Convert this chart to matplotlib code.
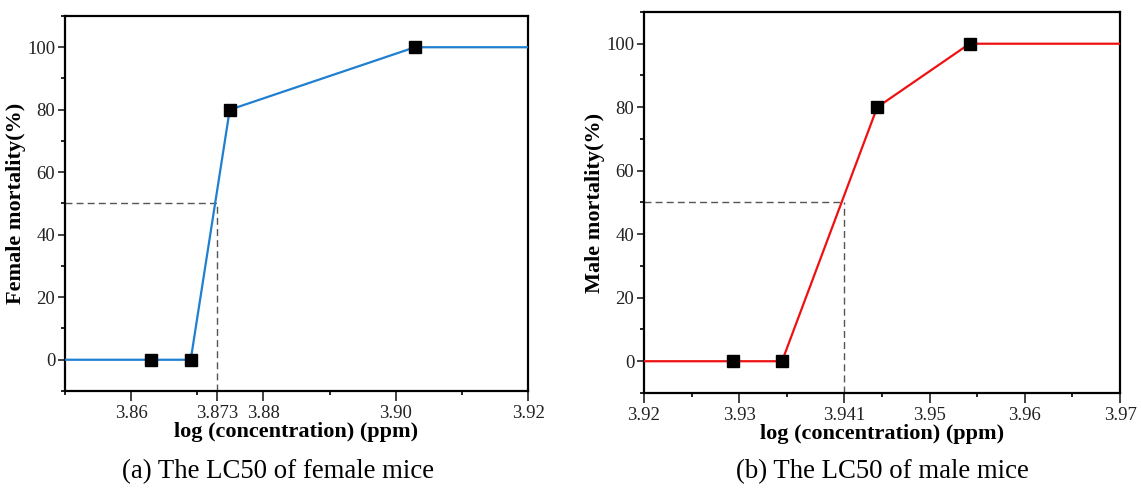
import numpy as np
import matplotlib
matplotlib.use("Agg")
import matplotlib.pyplot as plt
from matplotlib.ticker import MultipleLocator, FixedLocator

plt.rcParams['font.family'] = ['Liberation Serif', 'DejaVu Serif']

# female data
female_x = [3.863, 3.869, 3.8749, 3.9029]
female_y = [0, 0, 80, 100]
female_lc50 = 3.873
female_xlim = (3.85, 3.92)
female_ticks = [3.86, 3.873, 3.88, 3.90, 3.92]
female_ticklabels = ['3.86', '3.873', '3.88', '3.90', '3.92']

# male data
male_x = [3.9294, 3.9345, 3.9445, 3.9542]
male_y = [0, 0, 80, 100]
male_lc50 = 3.941
male_xlim = (3.92, 3.97)
male_ticks = [3.92, 3.93, 3.941, 3.95, 3.96, 3.97]
male_ticklabels = ['3.92', '3.93', '3.941', '3.95', '3.96', '3.97']

y_ticks = [0, 20, 40, 60, 80, 100]
ylim = (-10, 110)

fig = plt.figure(figsize=(11.41, 4.95), dpi=100)
ax1 = fig.add_axes([0.0570, 0.2101, 0.4058, 0.7576])
ax2 = fig.add_axes([0.5644, 0.2061, 0.4172, 0.7697])


def panel(ax, xs, ys, lc50, xlim, ticks, ticklabels, minor, color, ylabel):
    # extend the curve flat to the axis edges
    lx = [xlim[0]] + list(xs) + [xlim[1]]
    ly = [ys[0]] + list(ys) + [ys[-1]]
    ax.plot(lx, ly, color=color, lw=1.6, zorder=3)
    ax.plot(xs, ys, 's', color='black', ms=8, zorder=4)
    ax.plot([xlim[0], lc50], [50, 50], '--', color='#555555', lw=1.0, dashes=(5, 3))
    ax.plot([lc50, lc50], [ylim[0], 50], '--', color='#555555', lw=1.0, dashes=(5, 3))
    ax.set_xlim(*xlim)
    ax.set_ylim(*ylim)
    ax.set_xticks(ticks)
    ax.set_xticklabels(ticklabels)
    ax.xaxis.set_minor_locator(FixedLocator(minor))
    ax.set_yticks(y_ticks)
    ax.yaxis.set_minor_locator(MultipleLocator(10))
    ax.tick_params(axis='both', which='major', direction='out', length=5, width=1.2,
                   labelsize=13.5, colors='#222222', pad=2)
    ax.tick_params(axis='both', which='minor', direction='out', length=3, width=1.2)
    ax.tick_params(axis='x', which='major', length=7, pad=3)
    for s in ax.spines.values():
        s.set_linewidth(1.6)
    ax.set_xlabel('log (concentration) (ppm)', fontsize=16, fontweight='bold', labelpad=0)
    ax.set_ylabel(ylabel, fontsize=16, fontweight='bold', labelpad=1)


panel(ax1, female_x, female_y, female_lc50, female_xlim, female_ticks, female_ticklabels,
      [3.85, 3.87, 3.89, 3.91], '#1f7fd0', 'Female mortality(%)')
panel(ax2, male_x, male_y, male_lc50, male_xlim, male_ticks, male_ticklabels,
      [3.925, 3.935, 3.945, 3.955, 3.965], '#ee1111', 'Male mortality(%)')

fig.text(0.2440, 0.048, '(a) The LC50 of female mice', ha='center', va='center', fontsize=19.3)
fig.text(0.7730, 0.048, '(b) The LC50 of male mice', ha='center', va='center', fontsize=19.3)

fig.savefig('out.png', dpi=100)
